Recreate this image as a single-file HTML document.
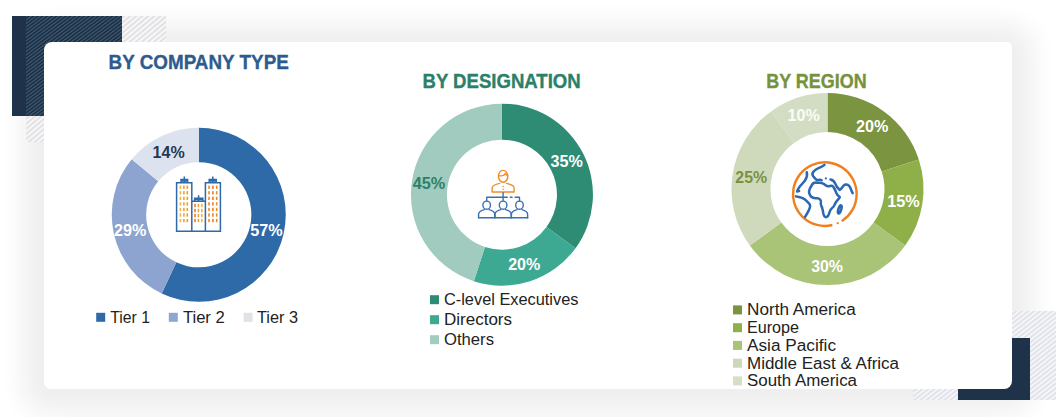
<!DOCTYPE html>
<html><head><meta charset="utf-8">
<style>
html,body{margin:0;padding:0;}
body{width:1063px;height:417px;position:relative;overflow:hidden;background:#fff;font-family:"Liberation Sans",sans-serif;}
.abs{position:absolute;}
.shadow{left:44px;top:42px;width:968px;height:346.5px;border-radius:8px;box-shadow:0 3px 24px 21px rgba(35,22,42,0.07);}
.card{left:44px;top:42px;width:968px;height:346.5px;border-radius:8px 5px 8px 7px;background:#fff;}
.navy{background:#1e3349;}
.hbg{background:#fafafb;}
.hatchW{background:repeating-linear-gradient(140deg,#e3e3e7 0,#e3e3e7 1.4px,#f8f8f9 2.2px,#f8f8f9 3.2px,#e3e3e7 3.9px);}
.hatchN{background:repeating-linear-gradient(143deg,#3b556d 0,#3b556d 0.6px,#1d3147 1.3px,#1d3147 2.3px,#3b556d 2.8px);}
.hatchB{background:repeating-linear-gradient(142deg,#e2e4ea 0,#e2e4ea 1.4px,#f6f7fa 2.1px,#f6f7fa 3.0px,#e2e4ea 3.7px);}
svg{position:absolute;left:0;top:0;}
text{font-family:"Liberation Sans",sans-serif;}
.b{font-weight:bold;}
</style></head><body>
<div class="abs shadow"></div>
<!-- top-left deco -->
<div class="abs hatchW" style="left:26px;top:16px;width:140px;height:125.5px;"></div>
<div class="abs navy" style="left:12px;top:16px;width:110px;height:99.5px;"></div>
<div class="abs hatchN" style="left:26px;top:16px;width:96px;height:99.5px;"></div>
<!-- bottom-right deco -->
<div class="abs hatchB" style="left:913px;top:311px;width:143px;height:89px;"></div>
<div class="abs navy" style="left:958px;top:338px;width:72px;height:62px;"></div>
<div class="abs card"></div>
<svg width="1063" height="417" viewBox="0 0 1063 417">
<path d="M198.75 127.75A87.0 87.0 0 1 1 161.71 293.47L176.35 262.34A52.6 52.6 0 1 0 198.75 162.15Z" fill="#2e69a8"/>
<path d="M161.71 293.47A87.0 87.0 0 0 1 131.72 159.29L158.22 181.22A52.6 52.6 0 0 0 176.35 262.34Z" fill="#8ca4cf"/>
<path d="M131.72 159.29A87.0 87.0 0 0 1 198.75 127.75L198.75 162.15A52.6 52.6 0 0 0 158.22 181.22Z" fill="#dde3ee"/>
<path d="M501.95 103.65A91.0 91.0 0 0 1 575.57 248.14L546.45 226.98A55 55 0 0 0 501.95 139.65Z" fill="#2e8c75"/>
<path d="M575.57 248.14A91.0 91.0 0 0 1 473.83 281.20L484.95 246.96A55 55 0 0 0 546.45 226.98Z" fill="#3ea992"/>
<path d="M473.83 281.20A91.0 91.0 0 0 1 501.95 103.65L501.95 139.65A55 55 0 0 0 484.95 246.96Z" fill="#a0cbbe"/>
<path d="M827.50 93.10A96 96 0 0 1 918.80 159.43L881.71 171.49A57 57 0 0 0 827.50 132.10Z" fill="#7a9440"/>
<path d="M918.80 159.43A96 96 0 0 1 905.17 245.53L873.61 222.60A57 57 0 0 0 881.71 171.49Z" fill="#8fb048"/>
<path d="M905.17 245.53A96 96 0 0 1 749.83 245.53L781.39 222.60A57 57 0 0 0 873.61 222.60Z" fill="#a9c377"/>
<path d="M749.83 245.53A96 96 0 0 1 771.07 111.43L794.00 142.99A57 57 0 0 0 781.39 222.60Z" fill="#cfdabd"/>
<path d="M771.07 111.43A96 96 0 0 1 827.50 93.10L827.50 132.10A57 57 0 0 0 794.00 142.99Z" fill="#d3ddc3"/>
<path fill="none" stroke="#2f69a7" stroke-width="1.5" d="M176.6 231.2V182.8H191.8V231.2 M205.4 231.2V182.8H220.4V231.2 M191.8 201.2H205.4 M175.8 231.2H221.2"/>
<path fill="none" stroke="#2f69a7" stroke-width="1.5" stroke-width="1.05" d="M181 182.8V179.4H187.6V182.8 M184.3 182.8V176.4 M181 180.9H187.6 M209.2 182.8V179.4H216.2V182.8 M212.8 182.8V176.4 M209.2 180.9H216.2 M194.6 201.2V198.2H202.8V201.2 M198.6 201.2V195.2 M194.6 199.6H202.8"/>
<rect x="179.60" y="185.60" width="1.6" height="3.3" fill="#f4b53f"/>
<rect x="179.60" y="191.15" width="1.6" height="3.3" fill="#f4b53f"/>
<rect x="179.60" y="196.70" width="1.6" height="3.3" fill="#f4b53f"/>
<rect x="179.60" y="202.25" width="1.6" height="3.3" fill="#f4b53f"/>
<rect x="179.60" y="207.80" width="1.6" height="3.3" fill="#f4b53f"/>
<rect x="179.60" y="213.35" width="1.6" height="3.3" fill="#f4b53f"/>
<rect x="179.60" y="218.90" width="1.6" height="3.3" fill="#f4b53f"/>
<rect x="183.10" y="185.60" width="1.6" height="3.3" fill="#f0a030"/>
<rect x="183.10" y="191.15" width="1.6" height="3.3" fill="#f0a030"/>
<rect x="183.10" y="196.70" width="1.6" height="3.3" fill="#f0a030"/>
<rect x="183.10" y="202.25" width="1.6" height="3.3" fill="#f0a030"/>
<rect x="183.10" y="207.80" width="1.6" height="3.3" fill="#f0a030"/>
<rect x="183.10" y="213.35" width="1.6" height="3.3" fill="#f0a030"/>
<rect x="183.10" y="218.90" width="1.6" height="3.3" fill="#f0a030"/>
<rect x="186.50" y="185.60" width="1.6" height="3.3" fill="#ee9a2c"/>
<rect x="186.50" y="191.15" width="1.6" height="3.3" fill="#ee9a2c"/>
<rect x="186.50" y="196.70" width="1.6" height="3.3" fill="#ee9a2c"/>
<rect x="186.50" y="202.25" width="1.6" height="3.3" fill="#ee9a2c"/>
<rect x="186.50" y="207.80" width="1.6" height="3.3" fill="#ee9a2c"/>
<rect x="186.50" y="213.35" width="1.6" height="3.3" fill="#ee9a2c"/>
<rect x="186.50" y="218.90" width="1.6" height="3.3" fill="#ee9a2c"/>
<rect x="208.20" y="185.60" width="1.6" height="3.3" fill="#ef8a28"/>
<rect x="208.20" y="191.15" width="1.6" height="3.3" fill="#ef8a28"/>
<rect x="208.20" y="196.70" width="1.6" height="3.3" fill="#ef8a28"/>
<rect x="208.20" y="202.25" width="1.6" height="3.3" fill="#ef8a28"/>
<rect x="208.20" y="207.80" width="1.6" height="3.3" fill="#ef8a28"/>
<rect x="208.20" y="213.35" width="1.6" height="3.3" fill="#ef8a28"/>
<rect x="208.20" y="218.90" width="1.6" height="3.3" fill="#ef8a28"/>
<rect x="212.10" y="185.60" width="1.6" height="3.3" fill="#ec7f22"/>
<rect x="212.10" y="191.15" width="1.6" height="3.3" fill="#ec7f22"/>
<rect x="212.10" y="196.70" width="1.6" height="3.3" fill="#ec7f22"/>
<rect x="212.10" y="202.25" width="1.6" height="3.3" fill="#ec7f22"/>
<rect x="212.10" y="207.80" width="1.6" height="3.3" fill="#ec7f22"/>
<rect x="212.10" y="213.35" width="1.6" height="3.3" fill="#ec7f22"/>
<rect x="212.10" y="218.90" width="1.6" height="3.3" fill="#ec7f22"/>
<rect x="215.90" y="185.60" width="1.6" height="3.3" fill="#ef8a28"/>
<rect x="215.90" y="191.15" width="1.6" height="3.3" fill="#ef8a28"/>
<rect x="215.90" y="196.70" width="1.6" height="3.3" fill="#ef8a28"/>
<rect x="215.90" y="202.25" width="1.6" height="3.3" fill="#ef8a28"/>
<rect x="215.90" y="207.80" width="1.6" height="3.3" fill="#ef8a28"/>
<rect x="215.90" y="213.35" width="1.6" height="3.3" fill="#ef8a28"/>
<rect x="215.90" y="218.90" width="1.6" height="3.3" fill="#ef8a28"/>
<rect x="194.20" y="203.80" width="1.6" height="3.4" fill="#ec7f22"/>
<rect x="194.20" y="208.80" width="1.6" height="3.4" fill="#ec7f22"/>
<rect x="194.20" y="213.80" width="1.6" height="3.4" fill="#ec7f22"/>
<rect x="194.20" y="218.80" width="1.6" height="3.4" fill="#ec7f22"/>
<rect x="197.60" y="203.80" width="1.6" height="3.4" fill="#f0a030"/>
<rect x="197.60" y="208.80" width="1.6" height="3.4" fill="#f0a030"/>
<rect x="197.60" y="213.80" width="1.6" height="3.4" fill="#f0a030"/>
<rect x="197.60" y="218.80" width="1.6" height="3.4" fill="#f0a030"/>
<rect x="201.00" y="203.80" width="1.6" height="3.4" fill="#f4b53f"/>
<rect x="201.00" y="208.80" width="1.6" height="3.4" fill="#f4b53f"/>
<rect x="201.00" y="213.80" width="1.6" height="3.4" fill="#f4b53f"/>
<rect x="201.00" y="218.80" width="1.6" height="3.4" fill="#f4b53f"/>
<ellipse fill="none" stroke="#f28c28" stroke-width="1.4" stroke-linecap="round" stroke-linejoin="round" cx="503.1" cy="176.3" rx="4.7" ry="5.9"/>
<path fill="none" stroke="#f28c28" stroke-width="1.4" stroke-linecap="round" stroke-linejoin="round" stroke-width="1.1" d="M498.70000000000005 175.6C501.1 176.4 504.1 175.6 505.3 173.6C505.90000000000003 174.8 506.70000000000005 175.4 507.6 175.6"/>
<path fill="none" stroke="#f28c28" stroke-width="1.4" stroke-linecap="round" stroke-linejoin="round" d="M492.1 192V188.2C492.1 185.4 494.5 184.4 499.70000000000005 183.4 M506.5 183.4C511.70000000000005 184.4 514.1 185.4 514.1 188.2V192 M492.1 192H514.1"/>
<circle cx="503.1" cy="186.5" r="0.8" fill="#f28c28"/><circle cx="503.1" cy="189.3" r="0.8" fill="#f28c28"/>
<path fill="none" stroke="#3a6fb5" stroke-width="1.4" stroke-linecap="round" stroke-linejoin="round" stroke-width="1.2" d="M503.1 192.6V200.6 M486.7 200.8V197.2H507.3 M510.3 197.2H512.1 M515.1 197.2H519.5V200.8"/>
<ellipse fill="none" stroke="#3a6fb5" stroke-width="1.4" stroke-linecap="round" stroke-linejoin="round" cx="486.7" cy="205.2" rx="3.8" ry="4.1"/>
<path fill="none" stroke="#3a6fb5" stroke-width="1.4" stroke-linecap="round" stroke-linejoin="round" d="M478.59999999999997 217.7V214.2C478.59999999999997 211.6 480.7 210.6 484.3 209.6 M489.09999999999997 209.6C492.7 210.6 494.8 211.6 494.8 214.2V217.7"/>
<ellipse fill="none" stroke="#3a6fb5" stroke-width="1.4" stroke-linecap="round" stroke-linejoin="round" cx="503.1" cy="205.2" rx="3.8" ry="4.1"/>
<path fill="none" stroke="#3a6fb5" stroke-width="1.4" stroke-linecap="round" stroke-linejoin="round" d="M495.0 217.7V214.2C495.0 211.6 497.1 210.6 500.70000000000005 209.6 M505.5 209.6C509.1 210.6 511.20000000000005 211.6 511.20000000000005 214.2V217.7"/>
<ellipse fill="none" stroke="#3a6fb5" stroke-width="1.4" stroke-linecap="round" stroke-linejoin="round" cx="519.5" cy="205.2" rx="3.8" ry="4.1"/>
<path fill="none" stroke="#3a6fb5" stroke-width="1.4" stroke-linecap="round" stroke-linejoin="round" d="M511.4 217.7V214.2C511.4 211.6 513.5 210.6 517.1 209.6 M521.9 209.6C525.5 210.6 527.6 211.6 527.6 214.2V217.7"/>
<path fill="none" stroke="#3a6fb5" stroke-width="1.4" stroke-linecap="round" stroke-linejoin="round" d="M478.4 217.8H527.8"/>
<g transform="translate(785,148) scale(0.20141)" fill="none" stroke-linecap="round" stroke-linejoin="round">
<path stroke="#f0801f" stroke-width="12" d="M230.4 383.5A158 158 0 1 1 285.9 360.0"/>
<circle cx="261.8" cy="373.3" r="5.5" fill="#f0801f" stroke="none"/>
<path stroke="#2b68b2" stroke-width="12.5" d="M130 190C135 178 145 170 158 172C172 174 182 172 192 178C200 183 208 192 218 190C226 188 232 184 238 190C246 198 250 212 256 226C260 236 268 238 272 244C266 256 256 262 250 274C246 284 244 292 234 298C224 304 222 316 218 328C214 340 204 348 196 340C188 332 190 316 186 302C183 290 174 282 178 268C180 260 172 252 162 250C150 248 140 252 130 242C120 232 118 214 124 200Z"/>
<path stroke="#2b68b2" stroke-width="12.5" d="M196 84C182 96 166 98 152 108C140 116 132 128 140 140C146 148 150 156 160 160C168 158 176 156 182 160"/>
<circle cx="203" cy="151" r="5.5" fill="#2f6db5" stroke="none"/>
<path stroke="#2b68b2" stroke-width="12.5" d="M226 156C238 158 246 166 250 178C254 190 262 200 272 208C280 204 284 194 292 186C300 178 312 180 320 190C328 200 328 214 336 224"/>
<path stroke="#2b68b2" stroke-width="12.5" d="M108 120C112 134 108 148 100 160C92 172 80 182 70 196C66 202 62 208 60 216L70 214"/>
<path stroke="#2b68b2" stroke-width="12.5" d="M54 240C66 244 78 244 90 250C102 256 110 266 120 276C128 284 124 298 118 310C112 322 106 332 100 342"/>
<ellipse stroke="#2b68b2" stroke-width="12.5" cx="272" cy="305" rx="7" ry="21" transform="rotate(18 272 305)"/>
</g>
<!-- titles -->
<g class="b" font-size="20" stroke-width="0.35" paint-order="stroke">
<text x="108.6" y="69.2" fill="#2d5b8e" stroke="#2d5b8e" textLength="180.2" lengthAdjust="spacingAndGlyphs">BY COMPANY TYPE</text>
<text x="422.5" y="88" fill="#2a8068" stroke="#2a8068" textLength="158.2" lengthAdjust="spacingAndGlyphs">BY DESIGNATION</text>
<text x="766.3" y="87.9" fill="#76923c" stroke="#76923c" textLength="100.3" lengthAdjust="spacingAndGlyphs">BY REGION</text>
</g>
<!-- pct labels -->
<g class="b" font-size="16" fill="#fff">
<text x="152.6" y="157.9" fill="#1f3a57" textLength="32.1" lengthAdjust="spacingAndGlyphs">14%</text>
<text x="114.0" y="235.9" textLength="32.3" lengthAdjust="spacingAndGlyphs">29%</text>
<text x="250.3" y="235.9" textLength="32.4" lengthAdjust="spacingAndGlyphs">57%</text>
<text x="550.6" y="166.7" textLength="32.2" lengthAdjust="spacingAndGlyphs">35%</text>
<text x="508.2" y="270.0" textLength="32.1" lengthAdjust="spacingAndGlyphs">20%</text>
<text x="412.8" y="188.8" fill="#2e8168" textLength="32.5" lengthAdjust="spacingAndGlyphs">45%</text>
<text x="856.1" y="131.9" textLength="32.3" lengthAdjust="spacingAndGlyphs">20%</text>
<text x="887.2" y="206.8" textLength="32.5" lengthAdjust="spacingAndGlyphs">15%</text>
<text x="811.2" y="271.7" textLength="31.8" lengthAdjust="spacingAndGlyphs">30%</text>
<text x="735.3" y="182.8" fill="#78923e" textLength="31.8" lengthAdjust="spacingAndGlyphs">25%</text>
<text x="787.6" y="120.8" fill="#fafcf6" textLength="32.1" lengthAdjust="spacingAndGlyphs">10%</text>
</g>
<!-- legends -->
<g font-size="16" fill="#222">
<rect x="96.2" y="312.8" width="9" height="9" fill="#2f69a7"/>
<text x="110.3" y="322.7" textLength="39.7" lengthAdjust="spacingAndGlyphs">Tier 1</text>
<rect x="168.8" y="312.8" width="9" height="9" fill="#8fa6d1"/>
<text x="182.9" y="322.7" textLength="41.9" lengthAdjust="spacingAndGlyphs">Tier 2</text>
<rect x="243.6" y="312.8" width="9" height="9" fill="#e0e2e6"/>
<text x="257" y="322.7" textLength="41" lengthAdjust="spacingAndGlyphs">Tier 3</text>

<rect x="430.0" y="295.2" width="9" height="9" fill="#2e8b75"/>
<text x="444" y="304.7" textLength="134.4" lengthAdjust="spacingAndGlyphs">C-level Executives</text>
<rect x="430.0" y="315.2" width="9" height="9" fill="#3fa98f"/>
<text x="444" y="324.7" textLength="68" lengthAdjust="spacingAndGlyphs">Directors</text>
<rect x="430.0" y="335.2" width="9" height="9" fill="#a3ccc0"/>
<text x="444" y="344.7" textLength="50" lengthAdjust="spacingAndGlyphs">Others</text>

<rect x="733" y="305.4" width="9" height="9" fill="#7a9440"/>
<text x="747.0" y="315.0" textLength="108.7" lengthAdjust="spacingAndGlyphs">North America</text>
<rect x="733" y="323.2" width="9" height="9" fill="#8faf4a"/>
<text x="747.0" y="332.9" textLength="52" lengthAdjust="spacingAndGlyphs">Europe</text>
<rect x="733" y="340.9" width="9" height="9" fill="#a9c377"/>
<text x="747.0" y="350.6" textLength="89" lengthAdjust="spacingAndGlyphs">Asia Pacific</text>
<rect x="733" y="358.7" width="9" height="9" fill="#ccd8b8"/>
<text x="747.0" y="368.5" textLength="152" lengthAdjust="spacingAndGlyphs">Middle East &amp; Africa</text>
<rect x="733" y="376.4" width="9" height="9" fill="#d5dfc6"/>
<text x="747.0" y="386.1" textLength="110" lengthAdjust="spacingAndGlyphs">South America</text>
</g>
</svg>
</body></html>
